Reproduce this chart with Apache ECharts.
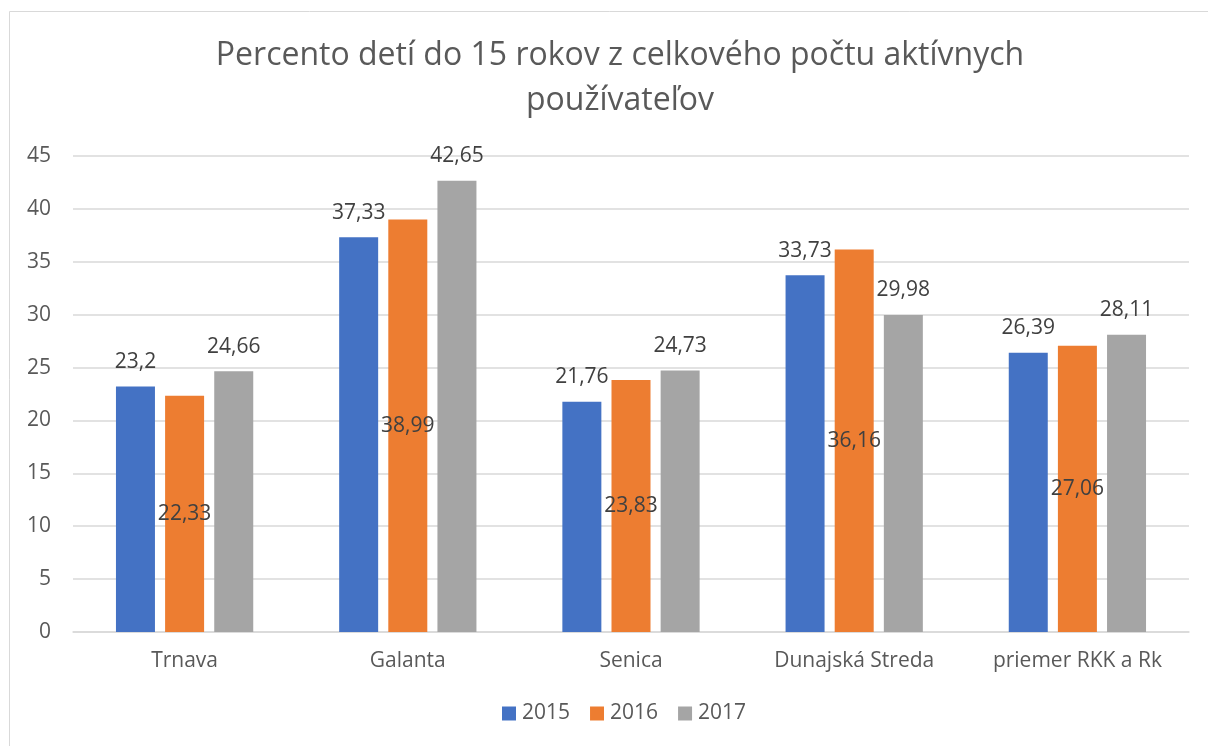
<!DOCTYPE html>
<html><head><meta charset="utf-8">
<script src="https://cdn.jsdelivr.net/npm/echarts@6/dist/echarts.min.js"></script>
<style>html,body{margin:0;padding:0;background:#fff}#c{width:1208px;height:746px}</style>
</head><body><div id="c"></div>
<script>
const categories = ['Trnava', 'Galanta', 'Senica', 'Dunajská Streda', 'priemer RKK a Rk'];
const years = ['2015', '2016', '2017'];
const v2015 = [23.2, 37.33, 21.76, 33.73, 26.39];
const v2016 = [22.33, 38.99, 23.83, 36.16, 27.06];
const v2017 = [24.66, 42.65, 24.73, 29.98, 28.11];
const colors = ['#4472C4', '#ED7D31', '#A5A5A5'];
const FONT = 'Open Sans';
const fmt = p => String(p.value).replace('.', ',');
const lbl = (pos) => ({show: true, position: pos, formatter: fmt, color: '#404040', fontSize: 21, fontFamily: FONT, distance: 14});
const chart = echarts.init(document.getElementById('c'));
chart.setOption({
  animation: false,
  textStyle: {fontFamily: FONT},
  title: {
    text: 'Percento detí do 15 rokov z celkového počtu aktívnych\npoužívateľov',
    left: 615, top: 28, textAlign: 'center',
    textStyle: {fontSize: 32, fontWeight: 'normal', color: '#595959', fontFamily: FONT, lineHeight: 45}
  },
  legend: {
    bottom: 17, left: 497, itemWidth: 14, itemHeight: 14, itemGap: 20,
    icon: 'rect',
    textStyle: {fontSize: 21, color: '#595959', fontFamily: FONT, padding: [0, 0, 0, 1]},
    data: years
  },
  grid: {left: 73, right: 19, top: 156, bottom: 114},
  xAxis: {
    type: 'category', data: categories,
    axisLine: {lineStyle: {color: '#D9D9D9', width: 1.5}},
    axisTick: {show: false},
    axisLabel: {color: '#595959', fontSize: 21, fontFamily: FONT, margin: 19}
  },
  yAxis: {
    type: 'value', min: 0, max: 45, interval: 5,
    axisLine: {show: false}, axisTick: {show: false},
    splitLine: {lineStyle: {color: '#D9D9D9', width: 1.5}},
    axisLabel: {color: '#595959', fontSize: 21, fontFamily: FONT, margin: 22, align: 'right'}
  },
  graphic: [{type: 'rect', shape: {x: 9.5, y: 11.5, width: 1220, height: 760}, style: {fill: 'none', stroke: '#D9D9D9', lineWidth: 1}, silent: true}],
  series: [
    {name: years[0], type: 'bar', data: v2015, barWidth: 39, barGap: '26%', itemStyle: {color: colors[0]}, label: lbl('top')},
    {name: years[1], type: 'bar', data: v2016, barWidth: 39, barGap: '26%', itemStyle: {color: colors[1]}, label: Object.assign(lbl('inside'), {distance: 0})},
    {name: years[2], type: 'bar', data: v2017, barWidth: 39, barGap: '26%', itemStyle: {color: colors[2]}, label: lbl('top')}
  ]
});
</script></body></html>
